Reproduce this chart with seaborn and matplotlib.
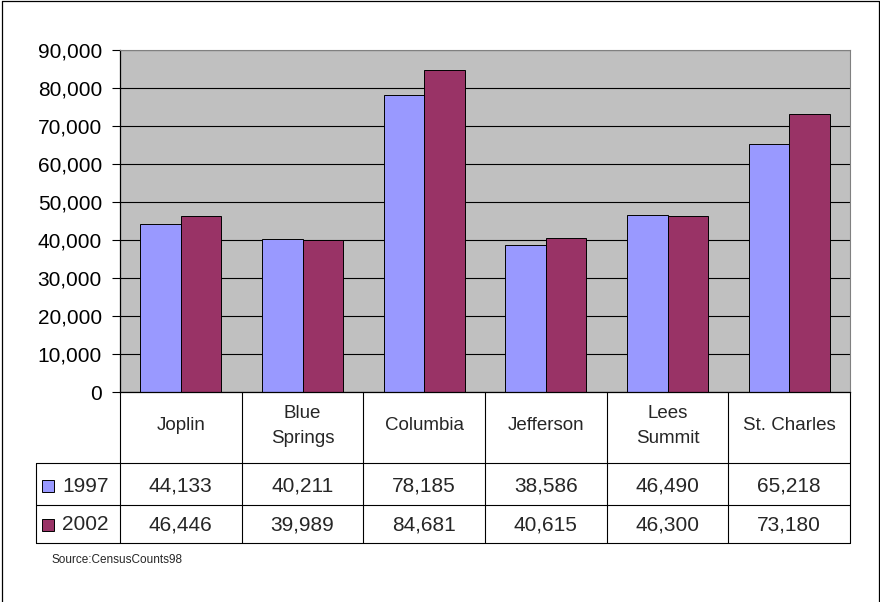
import pandas as pd
import matplotlib.pyplot as plt
import seaborn as sns
from matplotlib.patches import Rectangle
from matplotlib.lines import Line2D
from matplotlib.ticker import FuncFormatter, MultipleLocator

# -------- DATA --------
cities = ["Joplin", "Blue Springs", "Columbia", "Jefferson", "Lees Summit", "St. Charles"]
header_labels = ["Joplin", "Blue\nSprings", "Columbia", "Jefferson", "Lees\nSummit", "St. Charles"]
years = ["1997", "2002"]
pop_1997 = [44133, 40211, 78185, 38586, 46490, 65218]
pop_2002 = [46446, 39989, 84681, 40615, 46300, 73180]
colors = ["#9999FF", "#993366"]
source_note = "Source:CensusCounts98"
# ----------------------

df = pd.DataFrame({
    "city": cities * 2,
    "year": [years[0]] * len(cities) + [years[1]] * len(cities),
    "pop": pop_1997 + pop_2002,
})

sns.set_style("white")
plt.rcParams["font.family"] = ["Liberation Sans", "DejaVu Sans"]

W, H = 880, 602
fig = plt.figure(figsize=(W / 100, H / 100), dpi=100)
# plot area in pixels: x 120..850, y 50..392
ax = fig.add_axes([120 / W, (H - 392) / H, 730 / W, 342 / H])

sns.barplot(data=df, x="city", y="pop", hue="year", palette=colors,
            width=0.667, edgecolor="black", linewidth=0.7, ax=ax,
            legend=False, saturation=1)

ax.set_facecolor("#C0C0C0")
ax.set_ylim(0, 90000)
ax.set_xlim(-0.5, len(cities) - 0.5)
ax.yaxis.set_major_locator(MultipleLocator(10000))
ax.yaxis.set_major_formatter(FuncFormatter(lambda v, p: f"{int(v):,}"))
ax.yaxis.grid(True, color="black", linewidth=0.8)
ax.set_axisbelow(True)
ax.tick_params(axis="y", left=True, length=6, width=0.8, labelsize=15,
               colors="black", pad=7)
ax.tick_params(axis="x", bottom=False, labelbottom=False)
ax.set_xlabel("")
ax.set_ylabel("")
for s in ["top", "right"]:
    ax.spines[s].set_color("#808080")
for s in ["left", "bottom"]:
    ax.spines[s].set_color("black")
    ax.spines[s].set_linewidth(0.9)

# -------- data table below the plot --------
tr = ax.get_xaxis_transform()
px = 342.0  # plot height in pixels


def yy(p):
    return (392 - p) / px


cat_w = 730 / len(cities)
x_leg = -0.5 - (120 - 36) / cat_w
y_head, y_r1, y_r2 = yy(463), yy(505), yy(543)
n = len(cities)

for i in range(n + 1):
    ax.add_line(Line2D([i - 0.5, i - 0.5], [0, y_r2], transform=tr,
                       color="black", lw=0.8, clip_on=False))
for yv in [y_head, y_r1, y_r2]:
    ax.add_line(Line2D([x_leg, n - 0.5], [yv, yv], transform=tr,
                       color="black", lw=0.8, clip_on=False))
ax.add_line(Line2D([x_leg, x_leg], [y_head, y_r2], transform=tr,
                   color="black", lw=0.8, clip_on=False))

for i, lab in enumerate(header_labels):
    ax.text(i, yy(426), lab, transform=tr, ha="center", va="center",
            fontsize=13.5, linespacing=1.6)

rows = [(years[0], pop_1997, 486), (years[1], pop_2002, 525)]
for k, (yr, vals, yc) in enumerate(rows):
    for i, v in enumerate(vals):
        ax.text(i, yy(yc), f"{v:,}", transform=tr, ha="center", va="center",
                fontsize=15)
    ax.add_patch(Rectangle((-0.5 - (120 - 42) / cat_w, yy(yc + 6)),
                           12 / cat_w, 12 / px, transform=tr,
                           facecolor=colors[k], edgecolor="black", lw=0.7,
                           clip_on=False))
    ax.text(-0.5 - (120 - 62) / cat_w, yy(yc), yr, transform=tr,
            ha="left", va="center", fontsize=15)

fig.text(51 / W, (H - 560) / H, source_note, fontsize=8.5, ha="left",
         va="center")

# outer frame
for xs, ys in [([2, 2], [1, H + 5]), ([2, 879], [1, 1]), ([879, 879], [1, H + 5])]:
    fig.add_artist(Line2D([x / W for x in xs], [(H - y) / H for y in ys],
                          color="black", lw=0.9))

fig.savefig("out.png", dpi=100)
